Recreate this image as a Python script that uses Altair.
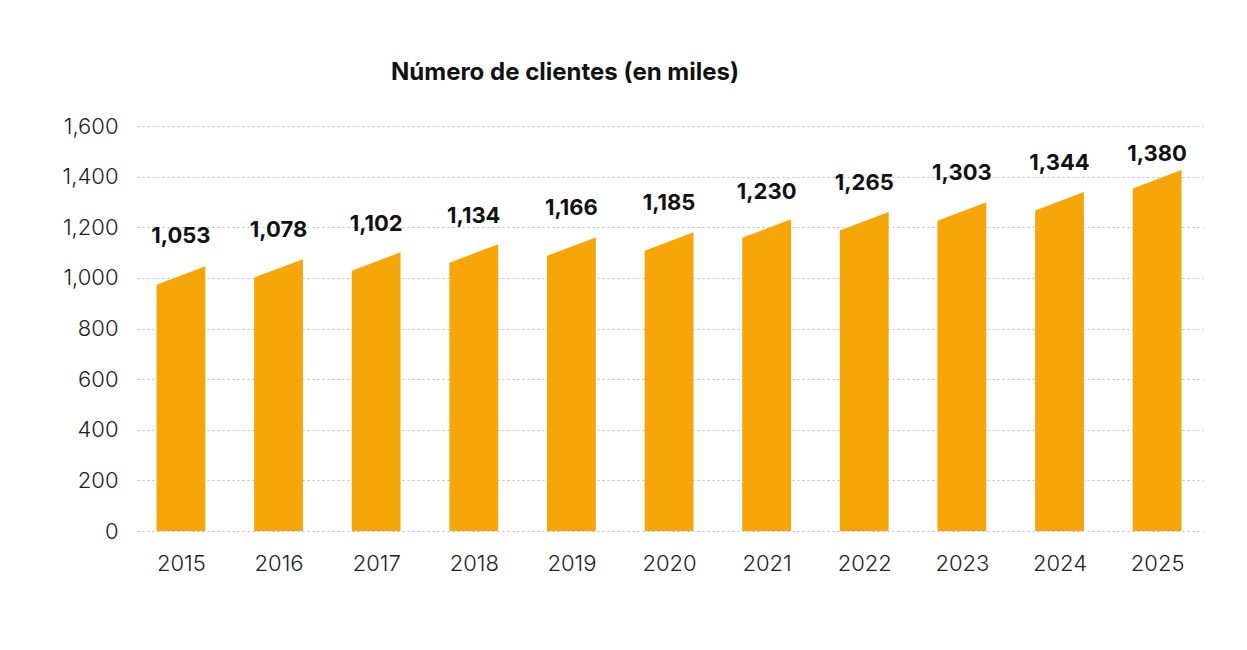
import altair as alt
import pandas as pd

years = [2015, 2016, 2017, 2018, 2019, 2020, 2021, 2022, 2023, 2024, 2025]
clientes = [1053, 1078, 1102, 1134, 1166, 1185, 1230, 1265, 1303, 1344, 1380]
# right-edge heights of the slanted bars, as drawn in the picture
bar_tops = [1046, 1074, 1101, 1133, 1160, 1180, 1232, 1260, 1299, 1339, 1426]
y_ticks = [0, 200, 400, 600, 800, 1000, 1200, 1400, 1600]

HALF = 0.25   # half bar width, in years
SLANT = 73    # drop of the left corner, in value units

rows = []
for yr, top in zip(years, bar_tops):
    rows.append({"year": yr, "x": yr - HALF, "top": top - SLANT})
    rows.append({"year": yr, "x": yr + HALF, "top": top})
bars_df = pd.DataFrame(rows)
labels_df = pd.DataFrame({"year": years, "value": clientes})

FONT = "Inter"
xscale = alt.Scale(domain=[2014.55, 2025.47], nice=False, zero=False)
yscale = alt.Scale(domain=[0, 1600], nice=False)

bars = alt.Chart(bars_df).mark_area(color="#F6A609", interpolate="linear").encode(
    x=alt.X("x:Q", scale=xscale,
            axis=alt.Axis(values=years, format="d", title=None, grid=False, domain=False,
                          ticks=False, labelPadding=22, labelFontSize=22, labelFont=FONT,
                          labelFontWeight=300, labelColor="#222222")),
    y=alt.Y("top:Q", scale=yscale,
            axis=alt.Axis(values=y_ticks, format=",d", title=None, domain=False, ticks=False,
                          labelPadding=19, labelFontSize=22, labelFont=FONT, labelFontWeight=300,
                          labelColor="#222222", gridColor="#B9B5E6", gridDash=[2, 3],
                          gridWidth=1.2)),
    y2=alt.datum(0),
    detail="year:N",
)

labels = alt.Chart(labels_df).mark_text(
    font=FONT, fontSize=22, fontWeight="bold", color="#111111",
    baseline="alphabetic", align="center", dy=-21,
).encode(
    x=alt.X("year:Q", scale=xscale),
    y=alt.Y("value:Q", scale=yscale),
    text=alt.Text("value:Q", format=",d"),
)

chart = (bars + labels).properties(
    width=1066,
    height=405,
    background="white",
    padding={"left": 129, "top": 118, "right": 30, "bottom": 80},
    autosize=alt.AutoSizeParams(type="none"),
    title=alt.TitleParams("Número de clientes (en miles)", anchor="middle", dx=-105,
                          offset=30, font=FONT, fontSize=24, fontWeight="bold",
                          color="#111111"),
).configure_view(strokeWidth=0, stroke="transparent")

chart.save("out.html", embed_options={"renderer": "svg", "actions": False})
